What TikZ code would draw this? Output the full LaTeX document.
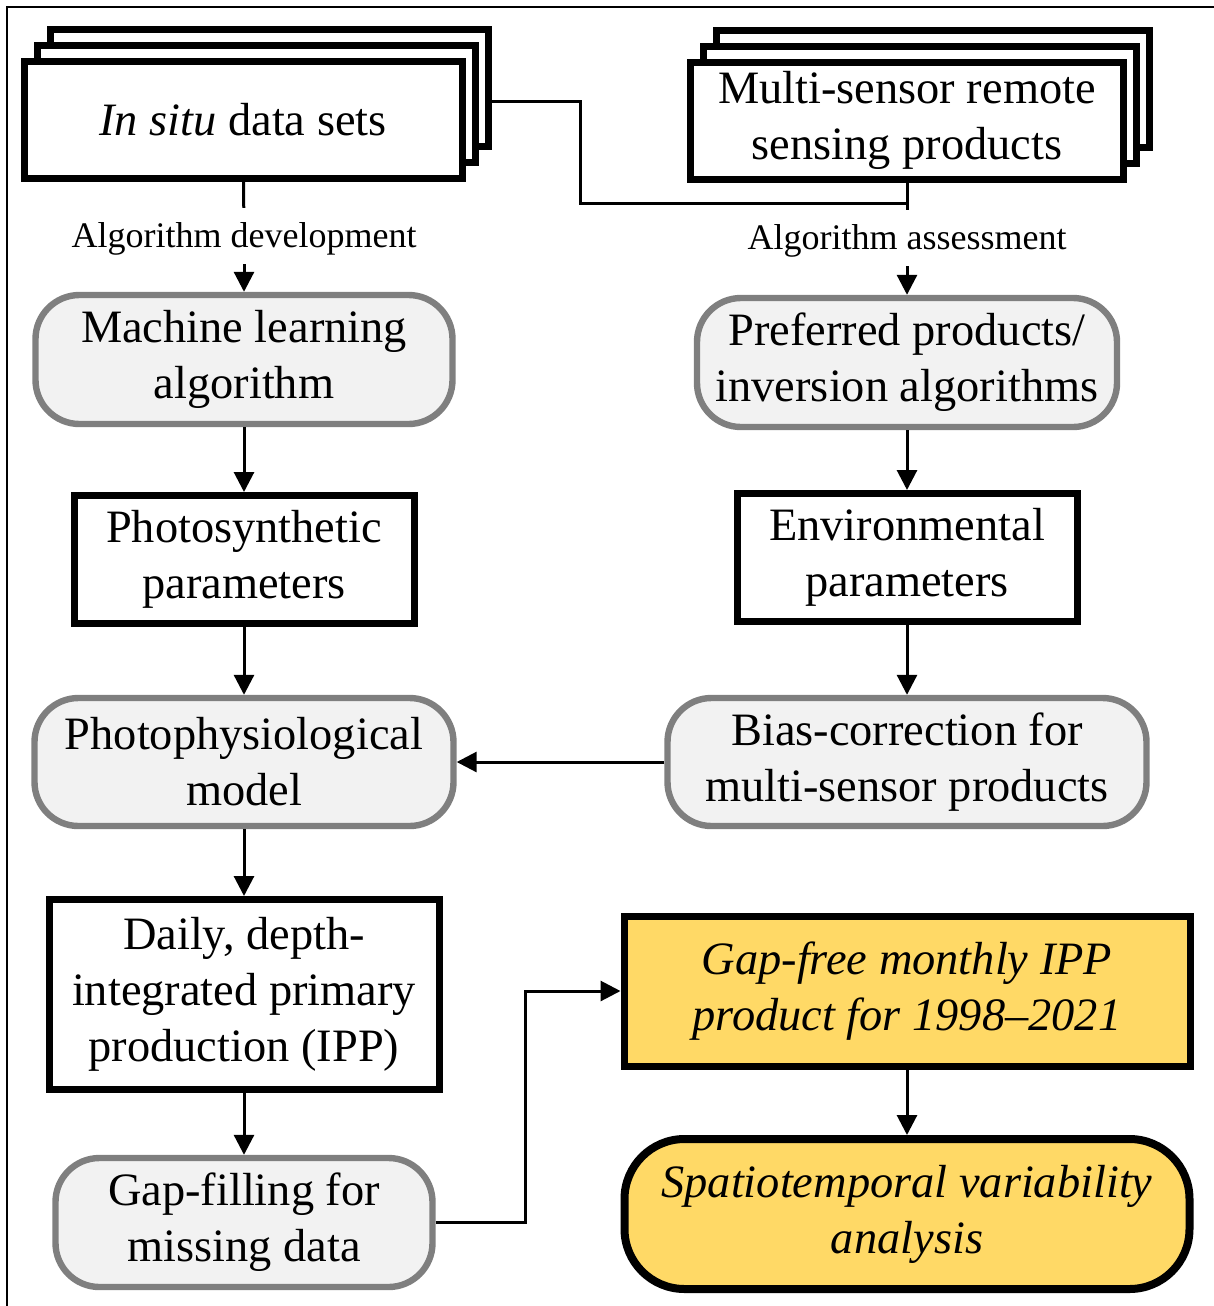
\documentclass[tikz,border=0pt]{standalone}
\usepackage{fontspec}
\setmainfont{Liberation Serif}
\definecolor{BoxGray}{RGB}{242,242,242}
\definecolor{EdgeGray}{RGB}{127,127,127}
\definecolor{Gold}{RGB}{255,217,102}
\usetikzlibrary{arrows.meta, calc}

\begin{document}
\begin{tikzpicture}[x=0.25pt, y=-0.25pt,
    font=\fontsize{11.6}{14}\selectfont,
    every node/.style={align=center, inner sep=0pt},
    databox/.style={draw, fill=white, line width=1.75pt},
    procbox/.style={draw=EdgeGray, fill=BoxGray, line width=1.6pt, rounded corners=11pt},
    parambox/.style={draw, fill=white, line width=1.75pt},
    goldbox/.style={draw, fill=Gold, line width=1.75pt, font=\fontsize{11.6}{14}\selectfont\itshape},
    goldround/.style={goldbox, line width=2pt, rounded corners=15pt},
    lab/.style={font=\fontsize{9}{11}\selectfont, inner sep=2pt, execute at begin node={\rule{0pt}{0.86em}}},
    line/.style={line width=0.75pt},
    arrow/.style={line, -{Triangle[length=5pt, width=5pt]}}]
    \useasboundingbox (0,0) rectangle (1213,1306);

    % frame
    \draw[line width=0.7pt] (1240,7) -- (7,7) -- (7,1330);

    % In situ data sets (stack)
    \coordinate (insitu-c) at (243,119.5);
    \foreach \k in {2,1}
        \node[databox, minimum width=109.5pt, minimum height=29.25pt] (insitu-b\k) at ($(insitu-c)+(13*\k,-16*\k)$) {};
    \node[databox, minimum width=109.5pt, minimum height=29.25pt] (insitu) at (insitu-c) {\textit{In situ} data sets};

    % Remote sensing products (stack)
    \coordinate (multi-c) at (907,120.5);
    \foreach \k in {2,1}
        \node[databox, minimum width=108.25pt, minimum height=29.25pt] (multi-b\k) at ($(multi-c)+(13*\k,-16*\k)$) {};
    \node[databox, minimum width=108.25pt, minimum height=29.25pt] (multi) at (multi-c) {Multi-sensor remote\\sensing products};

    % left column
    \node[lab] (dev) at (244,236) {Algorithm development};
    \node[procbox, minimum width=104.25pt, minimum height=32.25pt] (ml) at (244,359.5) {Machine learning\\algorithm};
    \node[parambox, minimum width=85pt, minimum height=32pt] (photosyn) at (244,559.5) {Photosynthetic\\parameters};
    \node[procbox, minimum width=104.75pt, minimum height=32pt] (photophys) at (244,762) {Photophysiological\\model};
    \node[parambox, minimum width=97.5pt, minimum height=47.5pt] (daily) at (244,994.5) {Daily, depth-\\integrated primary\\production (IPP)};
    \node[procbox, minimum width=94.25pt, minimum height=32.25pt] (gapfill) at (244,1222.5) {Gap-filling for\\missing data};

    % right column
    \node[lab] (assess) at (907,238) {Algorithm assessment};
    \node[procbox, minimum width=105pt, minimum height=32.25pt] (pref) at (907,362.5) {Preferred products/\\inversion algorithms};
    \node[parambox, minimum width=85pt, minimum height=32pt] (env) at (907,557.5) {Environmental\\parameters};
    \node[procbox, minimum width=119.75pt, minimum height=32pt] (bias) at (907,762) {Bias-correction for\\multi-sensor products};
    \node[goldbox, minimum width=141.5pt, minimum height=37.5pt] (gapfree) at (907,991) {Gap-free monthly IPP\\product for 1998–2021};
    \node[goldround, minimum width=141.25pt, minimum height=37.5pt] (spatio) at (907,1214) {Spatiotemporal variability\\analysis};

    % connectors
    \coordinate (jn) at (907,203);
    \coordinate (bend) at (580,0);
    \coordinate (elbow) at (525,0);
    \coordinate (start) at ($(insitu-b2.north east)!0.61!(insitu-b2.south east)$);
    \draw[line] (start) -- (start -| bend) |- (jn);
    \draw[line] (insitu) -- (dev);
    \draw[arrow] (dev) -- (ml);
    \draw[line] (multi) -- (assess);
    \draw[arrow] (assess) -- (pref);
    \draw[arrow] (ml) -- (photosyn);
    \draw[arrow] (photosyn) -- (photophys);
    \draw[arrow] (photophys) -- (daily);
    \draw[arrow] (daily) -- (gapfill);
    \draw[arrow] (pref) -- (env);
    \draw[arrow] (env) -- (bias);
    \draw[arrow] (bias) -- (photophys);
    \draw[arrow] (gapfill.east) -- (gapfill.east -| elbow) |- (gapfree.west);
    \draw[arrow] (gapfree) -- (spatio);
\end{tikzpicture}
\end{document}
